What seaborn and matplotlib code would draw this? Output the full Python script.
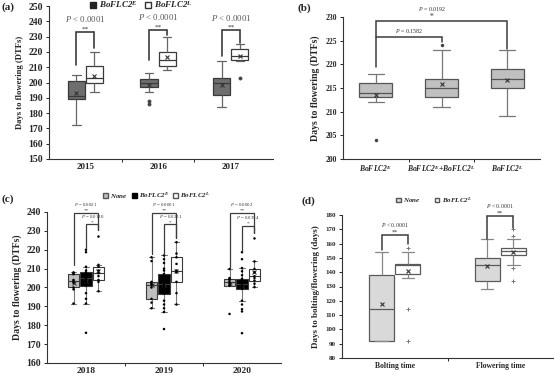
import numpy as np
import pandas as pd
import matplotlib
matplotlib.use('Agg')
import matplotlib.pyplot as plt
import seaborn as sns
from matplotlib.patches import Patch

sns.set_style('white')
plt.rcParams['font.family'] = ['Liberation Serif', 'DejaVu Serif']
plt.rcParams['mathtext.fontset'] = 'custom'
plt.rcParams['mathtext.rm'] = 'Liberation Serif'
plt.rcParams['mathtext.it'] = 'Liberation Serif:italic'
plt.rcParams['mathtext.bf'] = 'Liberation Serif:bold'
plt.rcParams['mathtext.bfit'] = 'Liberation Serif:italic:bold'

E_LAB = r'$\mathbfit{BoFLC2}^{\mathbfit{E}}$'
L_LAB = r'$\mathbfit{BoFLC2}^{\mathbfit{L}}$'
NONE_LAB = r'$\mathbfit{None}$'

# -------------------------------------------
# data (days)
# -------------------------------------------
years_a = ['2015', '2016', '2017']
a_2015_e = [172, 185, 189, 190, 191, 200, 201, 204, 205]
a_2015_l = [194, 196, 200, 201, 203, 204, 210.5, 211, 220]
a_2016_e = [186, 188, 194, 197, 198, 199, 200, 201, 201.5, 202, 204, 205, 206]
a_2016_l = [208, 210, 211, 214, 215, 218, 220, 226, 230]
a_2017_e = [184, 190, 192, 196, 199.5, 201, 203, 207, 214]
a_2017_l = [203, 214, 215, 216, 217, 219, 222, 224, 225]
a_bracket_left = [211.5, 215, 217.5]
a_bracket_top = [233, 234.5, 234]
a_bracket_right = [222.5, 231, 226]

genotypes_b = ['E', 'EL', 'L']
b_e = [204, 212, 213, 213.5, 214, 215, 216, 217, 218]
b_el = [211, 212, 213, 213, 214, 214.5, 215, 216, 216.5, 217, 218, 223, 224]
b_l = [209, 213, 215, 216, 217, 218, 219, 221, 223]

years_c = ['2018', '2019', '2020']
c_2018_none = [191.5, 199, 200, 202.5, 203.5, 204, 207, 207.5, 208]
c_2018_e = [176, 191.5, 194, 197, 201, 202, 203, 204, 205, 206, 207, 207.5, 208, 209, 211, 218.7, 220]
c_2018_l = [198, 203, 204, 206, 207.5, 209, 211, 212, 227]
c_2019_none = [189, 192, 194, 200, 201.5, 202, 203, 214, 216]
c_2019_e = [178, 187, 189, 191, 193, 196.7, 198, 199, 200, 201, 202, 203, 204, 205, 206, 207.2,
            209, 210, 213, 215, 217]
c_2019_l = [191, 197, 203, 208, 209, 212.5, 216, 218, 224]
c_2020_none = [186, 201, 201, 202, 203, 204, 204.6, 205, 209.8]
c_2020_e = [175.8, 187.3, 188.5, 191, 193, 199.3, 199.5, 200, 200.5, 201, 202, 202.5, 203, 203.5,
            204, 204.6, 206.5, 208.6, 210.3, 215, 218.7]
c_2020_l = [200.2, 202, 203.7, 205, 206, 208, 209.8, 213.8, 226]
c_p_outer = ['0.0021', '0.0001', '0.0002']
c_p_inner = ['0.0130', '0.0231', '0.0354']
c_outer_top = [239.7, 239.7, 239.7]
c_outer_left = [212, 217.7, 210.3]
c_outer_right = [230.4, 226, 229]
c_inner_top = [233.4, 233.4, 232.7]
c_inner_left = [220.8, 217.7, 219.4]

traits_d = ['Bolting time', 'Flowering time']
d_bolt_none = [92, 92, 92, 105, 114, 125, 138, 145, 154]
d_bolt_l = [92, 114, 136, 138, 139, 142, 144, 145, 145, 145.5, 146, 146, 146, 148, 151, 154, 157]
d_flow_none = [128.5, 132, 134, 140, 145, 148, 150, 156, 163]
d_flow_l = [134, 143, 145, 152, 153, 154, 155, 156, 156.5, 157, 163, 165, 170]
d_bracket_left = [155.5, 163.5]
d_bracket_top = [166, 179]
d_bracket_right = [160, 171]


def long_df(blocks, gcol, hcol):
    return pd.DataFrame([(g, h, v) for g, h, vals in blocks for v in vals],
                        columns=[gcol, hcol, 'days'])


df_a = long_df([('2015', 'E', a_2015_e), ('2015', 'L', a_2015_l),
                ('2016', 'E', a_2016_e), ('2016', 'L', a_2016_l),
                ('2017', 'E', a_2017_e), ('2017', 'L', a_2017_l)], 'year', 'allele')
df_b = long_df([('E', 'x', b_e), ('EL', 'x', b_el), ('L', 'x', b_l)], 'genotype', 'g')
df_c = long_df([('2018', 'None', c_2018_none), ('2018', 'E', c_2018_e), ('2018', 'L', c_2018_l),
                ('2019', 'None', c_2019_none), ('2019', 'E', c_2019_e), ('2019', 'L', c_2019_l),
                ('2020', 'None', c_2020_none), ('2020', 'E', c_2020_e), ('2020', 'L', c_2020_l)],
               'year', 'allele')
df_d = long_df([('Bolting time', 'None', d_bolt_none), ('Bolting time', 'L', d_bolt_l),
                ('Flowering time', 'None', d_flow_none), ('Flowering time', 'L', d_flow_l)],
               'trait', 'allele')

W, H = 554, 376
fig = plt.figure(figsize=(W / 100, H / 100), dpi=100)


def px_axes(left, top, right, bottom):
    return fig.add_axes([left / W, 1 - bottom / H, (right - left) / W, (bottom - top) / H])


def style_axes(ax, tick_size, ncat):
    for s in ['top', 'right']:
        ax.spines[s].set_visible(False)
    for s in ['left', 'bottom']:
        ax.spines[s].set_color('#333333')
        ax.spines[s].set_linewidth(0.8)
    ax.tick_params(axis='y', labelsize=tick_size, length=2.5, width=0.7, pad=2, left=True)
    ax.tick_params(axis='x', which='major', length=0, pad=3)
    ax.set_xticks(np.arange(ncat - 1) + 0.5, minor=True)
    ax.tick_params(axis='x', which='minor', length=2.5, width=0.7, bottom=True, direction='out')
    for lab in ax.get_yticklabels():
        lab.set_fontweight('bold')
    ax.set_xlabel('')


def bracket(ax, x0, x1, y0, ytop, y1, color='#3c3c3c', lw=1.2):
    ax.plot([x0, x0, x1, x1], [y0, ytop, ytop, y1], color=color, lw=lw,
            solid_joinstyle='miter', clip_on=False, zorder=5)


mean_kw = dict(marker='x', markeredgecolor='#333333', markersize=3.5, markeredgewidth=0.8)
gray_txt = '#555555'

# -------------------------------------------
# (a)
# -------------------------------------------
ax = px_axes(49, 6, 273, 159)
sns.boxplot(data=df_a, x='year', y='days', hue='allele', order=years_a, hue_order=['E', 'L'],
            palette={'E': '#6e6e6e', 'L': 'white'}, width=0.5, gap=0.06,
            linecolor='#3a3a3a', linewidth=0.9, showmeans=True, meanprops=mean_kw,
            whiskerprops=dict(color='#666666'), capprops=dict(color='#666666'),
            flierprops=dict(marker='o', markersize=2.2, markerfacecolor='#444444',
                            markeredgecolor='#444444', markeredgewidth=0.6),
            legend=False, ax=ax)
ax.set_ylim(150, 250)
ax.set_yticks(np.arange(150, 251, 10))
ax.set_xlim(-0.5, 2.58)
style_axes(ax, 7, 3)
ax.set_xticks(range(3))
ax.set_xticklabels(years_a, fontsize=6.5, fontweight='bold')
ax.set_ylabel('Days to flowering (DTFs)', fontsize=6.2, fontweight='bold', labelpad=3)
for i in range(3):
    bracket(ax, i - 0.125, i + 0.125, a_bracket_left[i], a_bracket_top[i], a_bracket_right[i])
    ax.text(i, a_bracket_top[i] + 0.3, '**', ha='center', va='bottom', fontsize=5.2, color='#333333')
    ax.text(i, a_bracket_top[i] + 5.2, r'$P$ < 0.0001', ha='center', va='bottom',
            fontsize=6.3, color=gray_txt)
ax.legend(handles=[Patch(facecolor='#222222', edgecolor='#222222'),
                   Patch(facecolor='white', edgecolor='#333333')],
          labels=[E_LAB, L_LAB], loc='center', bbox_to_anchor=(0.41, 1.01), ncol=2,
          frameon=False, fontsize=6.5, handlelength=0.7, handleheight=0.7,
          handletextpad=0.3, columnspacing=0.8, borderaxespad=0)

# -------------------------------------------
# (b)
# -------------------------------------------
ax = px_axes(343, 17, 540, 159)
sns.boxplot(data=df_b, x='genotype', y='days', order=genotypes_b, color='#c0c0c0',
            width=0.5, linecolor='#555555', linewidth=0.9, showmeans=True, meanprops=mean_kw,
            whiskerprops=dict(color='#777777'), capprops=dict(color='#777777'),
            flierprops=dict(marker='o', markersize=1.5, markerfacecolor='#444444',
                            markeredgecolor='#444444'), ax=ax)
ax.set_ylim(200, 230)
ax.set_yticks(np.arange(200, 231, 5))
ax.set_xlim(-0.5, 2.5)
style_axes(ax, 5.5, 3)
ax.set_xticks(range(3))
ax.set_xticklabels([E_LAB, r'$\mathbfit{BoFLC2}^{\mathbfit{E}}\mathbfit{+BoFLC2}^{\mathbfit{L}}$', L_LAB],
                   fontsize=5.5)
ax.set_ylabel('Days to flowering (DTFs)', fontsize=7, fontweight='bold', labelpad=4)
bracket(ax, 0, 2, 219.5, 229.1, 223.2, lw=1.1)
bracket(ax, 0, 1, 225.7, 225.7, 224.7, lw=1.1)
ax.text(0.5, 226.1, r'$P$ = 0.1582', ha='center', va='bottom', fontsize=4.3, color='#333333')
ax.text(0.85, 229.2, '*', ha='center', va='bottom', fontsize=5.5, color='#333333')
ax.text(0.85, 230.8, r'$P$ = 0.0192', ha='center', va='bottom', fontsize=4.3, color='#333333')

# -------------------------------------------
# (c)
# -------------------------------------------
ax = px_axes(47, 212, 281, 363)
sns.boxplot(data=df_c, x='year', y='days', hue='allele', order=years_c,
            hue_order=['None', 'E', 'L'],
            palette={'None': '#bfbfbf', 'E': '#000000', 'L': 'white'}, width=0.48, gap=0.05,
            linecolor='#3a3a3a', linewidth=0.8, showmeans=True, meanprops=mean_kw,
            whiskerprops=dict(color='#777777'), capprops=dict(color='#777777'),
            showfliers=False, legend=False, ax=ax)
# pad levels keep the strip offsets in line with the boxes
sns.stripplot(data=df_c, x='year', y='days', hue='allele', order=years_c,
              hue_order=['pad0', 'None', 'E', 'L', 'pad1'],
              palette={k: 'black' for k in ['pad0', 'None', 'E', 'L', 'pad1']},
              dodge=True, jitter=False, size=1.8, legend=False, ax=ax)
ax.set_ylim(160, 240)
ax.set_yticks(np.arange(160, 241, 10))
ax.set_xlim(-0.5, 2.5)
style_axes(ax, 7, 3)
ax.set_xticks(range(3))
ax.set_xticklabels(years_c, fontsize=6.8, fontweight='bold')
ax.set_ylabel('Days to flowering (DTFs)', fontsize=7, fontweight='bold', labelpad=3)
for i in range(3):
    bracket(ax, i - 0.16, i + 0.16, c_outer_left[i], c_outer_top[i], c_outer_right[i], lw=0.9)
    bracket(ax, i, i + 0.16, c_inner_left[i], c_inner_top[i], c_outer_right[i], lw=0.9)
    ax.text(i, c_outer_top[i] + 0.2, '**', ha='center', va='bottom', fontsize=3.8, color='#333333')
    ax.text(i, c_outer_top[i] + 2.4, r'$P$ = ' + c_p_outer[i], ha='center', va='bottom',
            fontsize=3.5, color='#333333', clip_on=False)
    ax.text(i + 0.08, c_inner_top[i] + 0.2, '*', ha='center', va='bottom', fontsize=3.8, color='#333333')
    ax.text(i + 0.08, c_inner_top[i] + 2.4, r'$P$ = ' + c_p_inner[i], ha='center', va='bottom',
            fontsize=3.5, color='#333333')
ax.legend(handles=[Patch(facecolor='#bfbfbf', edgecolor='#555555'),
                   Patch(facecolor='black', edgecolor='black'),
                   Patch(facecolor='white', edgecolor='#555555')],
          labels=[NONE_LAB, E_LAB, L_LAB], loc='center', bbox_to_anchor=(0.47, 1.11), ncol=3,
          frameon=False, fontsize=5, handlelength=0.7, handleheight=0.7,
          handletextpad=0.3, columnspacing=0.6, borderaxespad=0)

# -------------------------------------------
# (d)
# -------------------------------------------
ax = px_axes(342, 215, 553, 358)
sns.boxplot(data=df_d, x='trait', y='days', hue='allele', order=traits_d, hue_order=['None', 'L'],
            palette={'None': '#d9d9d9', 'L': 'white'}, width=0.5, gap=0.05,
            linecolor='#5a5a5a', linewidth=0.9, showmeans=True, meanprops=mean_kw,
            whiskerprops=dict(color='#888888'), capprops=dict(color='#888888'),
            flierprops=dict(marker='+', markersize=2.5, markeredgecolor='#777777',
                            markeredgewidth=0.7),
            legend=False, ax=ax)
ax.set_ylim(80, 180)
ax.set_yticks(np.arange(80, 181, 10))
ax.set_xlim(-0.5, 1.5)
style_axes(ax, 5, 2)
ax.set_xticks(range(2))
ax.set_xticklabels(traits_d, fontsize=5.5, fontweight='bold')
ax.set_ylabel('Days to bolting/flowering (days)', fontsize=6.5, fontweight='bold', labelpad=4)
for i in range(2):
    bracket(ax, i - 0.125, i + 0.125, d_bracket_left[i], d_bracket_top[i], d_bracket_right[i], lw=1.1)
    ax.text(i, d_bracket_top[i] + 0.5, '**', ha='center', va='bottom', fontsize=4.5, color='#333333')
    ax.text(i, d_bracket_top[i] + 4.5, r'$P$ < 0.0001', ha='center', va='bottom',
            fontsize=4.2, color='#333333')
ax.legend(handles=[Patch(facecolor='#d9d9d9', edgecolor='#555555'),
                   Patch(facecolor='white', edgecolor='#555555')],
          labels=[NONE_LAB, L_LAB], loc='center', bbox_to_anchor=(0.436, 1.105), ncol=2,
          frameon=False, fontsize=5, handlelength=0.7, handleheight=0.7,
          handletextpad=0.3, columnspacing=2.0, borderaxespad=0)

# panel tags
fig.text(1 / W, 1 - 2 / H, '(a)', fontsize=8, fontweight='bold', va='top', ha='left')
fig.text(297 / W, 1 - 3 / H, '(b)', fontsize=8, fontweight='bold', va='top', ha='left')
fig.text(2 / W, 1 - 194 / H, '(c)', fontsize=8, fontweight='bold', va='top', ha='left')
fig.text(302 / W, 1 - 196 / H, '(d)', fontsize=8, fontweight='bold', va='top', ha='left')

fig.savefig('out.png', dpi=100)
